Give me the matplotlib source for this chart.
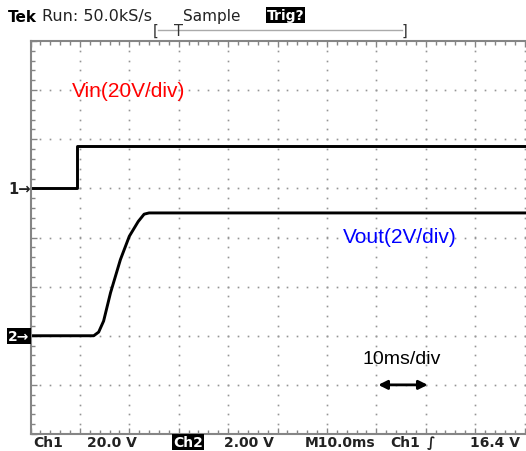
import numpy as np
import matplotlib.pyplot as plt
from matplotlib.ticker import MultipleLocator

# time in ms, volts
vin_t = [0, 9.35, 9.35, 100.3]
vin_v = [0, 0, 17.1, 17.1]

vout_t = [0, 12.8, 13.8, 14.8, 16.2, 18.2, 20.0, 21.8, 23.0, 24.0, 100.3]
vout_v = [0, 0, 0.15, 0.6, 1.75, 3.1, 4.05, 4.65, 4.95, 5.0, 5.0]

ch1_scale, ch1_offset = 20.0, 1.0   # V/div, div
ch2_scale, ch2_offset = 2.0, -2.0

W, H = 526, 452


def px(x, y):
    return x / W, 1 - y / H


fig = plt.figure(figsize=(W / 100, H / 100), dpi=100)
ax = fig.add_axes([30.5 / W, 1 - 435 / H, (W - 30.5) / W, 393 / H])
ax.set_xlim(0, 100.3)
ax.set_ylim(-4, 4)

# dotted graticule
dot = dict(color='#959595', marker='s', markersize=1.2, markeredgewidth=0, linestyle='none')
ys = np.arange(-3.8, 3.81, 0.2)
for k in range(1, 11):
    ax.plot(np.full_like(ys, k * 10.0), ys, **dot)
xs = np.arange(2.0, 100.4, 2.0)
for k in range(-3, 4):
    ax.plot(xs, np.full_like(xs, k), **dot)

# traces
ax.plot(vin_t, [ch1_offset + v / ch1_scale for v in vin_v], color='black', lw=2.1)
ax.plot(vout_t, [ch2_offset + v / ch2_scale for v in vout_v], color='black', lw=2.1)

# frame
for s in ['top', 'bottom', 'left']:
    ax.spines[s].set_color('#858585')
    ax.spines[s].set_linewidth(1.5)
ax.spines['right'].set_visible(False)
ax.xaxis.set_major_locator(MultipleLocator(10))
ax.xaxis.set_minor_locator(MultipleLocator(2))
ax.yaxis.set_major_locator(MultipleLocator(1))
ax.yaxis.set_minor_locator(MultipleLocator(0.2))
ax.tick_params(which='both', direction='in', top=True, bottom=True, left=True, right=False,
               labelbottom=False, labelleft=False, color='#858585', width=1)
ax.tick_params(which='major', length=4)
ax.tick_params(which='minor', length=3)

# annotations
ax.text(8.4, 2.99, 'Vin(20V/div)', color='#ff0000', fontsize=15,
        family='Liberation Sans', va='center', ha='left')
ax.text(63.3, 0.03, 'Vout(2V/div)', color='#0000ff', fontsize=15,
        family='Liberation Sans', va='center', ha='left')
ax.text(75.1, -2.47, '10ms/div', color='black', fontsize=14,
        family='Liberation Sans', va='center', ha='center')
ax.annotate('', xy=(80.4, -3.0), xytext=(70.4, -3.0),
            arrowprops=dict(arrowstyle='<|-|>', color='black', lw=2,
                            mutation_scale=13, shrinkA=0, shrinkB=0))

# header
fig.text(*px(8, 17), 'Tek', fontsize=11, weight='bold', va='center', ha='left')
fig.text(*px(42, 17), 'Run: 50.0kS/s', fontsize=11.5, color='#222222', va='center', ha='left')
fig.text(*px(183, 17), 'Sample', fontsize=11, color='#222222', va='center', ha='left')
fig.text(*px(267, 16), 'Trig?', fontsize=10, color='white', weight='bold', va='center', ha='left',
         bbox=dict(facecolor='black', edgecolor='none', pad=0.6))

# trigger bracket
fig.text(*px(155.5, 31), '[', fontsize=10.5, color='#333333', va='center', ha='center')
fig.text(*px(404.5, 31), ']', fontsize=10.5, color='#333333', va='center', ha='center')
fig.add_artist(plt.Line2D([158 / W, 402 / W], [1 - 31.3 / H, 1 - 31.3 / H],
                          color='#aaaaaa', lw=1, transform=fig.transFigure))
fig.text(*px(179, 32), 'T', fontsize=10.5, color='#333333', va='center', ha='center')

# channel markers
fig.text(*px(20, 189), '1\u2192', fontsize=10.5, weight='bold', va='center', ha='center',
         color='#222222')
fig.text(*px(19, 337), '2\u2192', fontsize=10, va='center', ha='center', color='white',
         weight='bold', bbox=dict(facecolor='black', edgecolor='none', pad=0.6))

# footer
fy = 443
fs = 10
fig.text(*px(33, fy), 'Ch1', fontsize=fs, weight='bold', va='center', ha='left', color='#222222')
fig.text(*px(87, fy), '20.0 V', fontsize=fs, weight='bold', va='center', ha='left', color='#222222')
fig.text(*px(173, fy), 'Ch2', fontsize=fs, weight='bold', va='center', ha='left', color='white',
         bbox=dict(facecolor='black', edgecolor='none', pad=0.5))
fig.text(*px(224, fy), '2.00 V', fontsize=fs, weight='bold', va='center', ha='left', color='#222222')
fig.text(*px(305, fy), 'M10.0ms', fontsize=fs, weight='bold', va='center', ha='left', color='#222222')
fig.text(*px(390, fy), 'Ch1', fontsize=fs, weight='bold', va='center', ha='left', color='#222222')
fig.text(*px(427, fy), '\u222b', fontsize=fs, weight='bold', va='center', ha='left', color='#222222')
fig.text(*px(520, fy), '16.4 V', fontsize=fs, weight='bold', va='center', ha='right', color='#222222')

fig.savefig('out.png', dpi=100)
